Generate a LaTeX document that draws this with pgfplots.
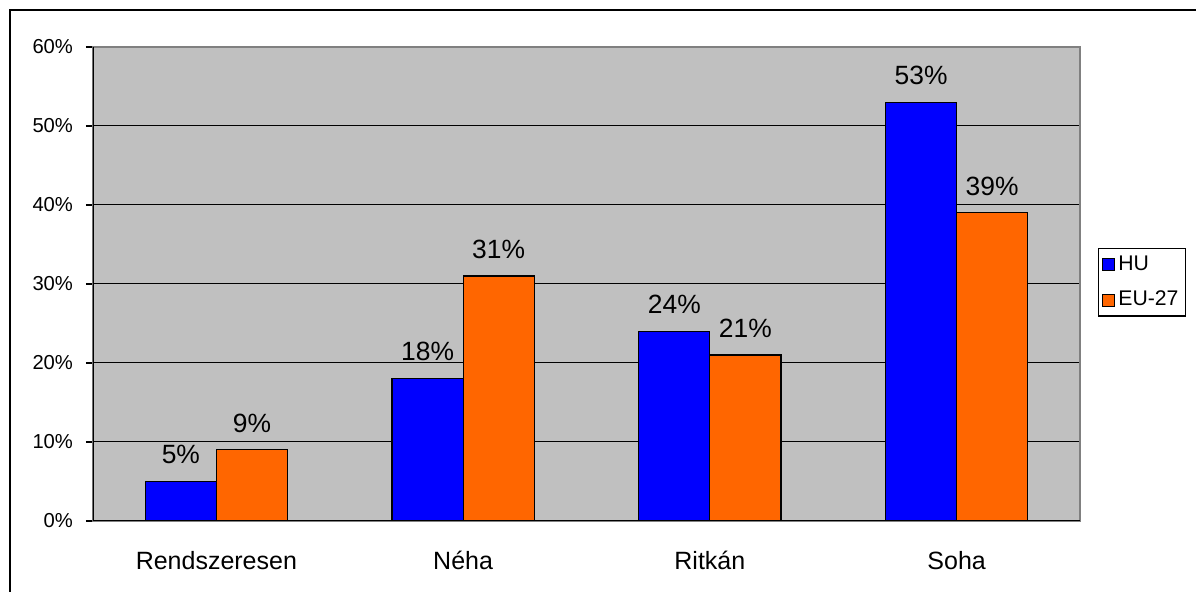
\documentclass[border=0pt]{standalone}
\usepackage{fontspec}
\setmainfont{Liberation Sans}
\usepackage{pgfplots}
\pgfplotsset{compat=1.18}
\definecolor{chu}{HTML}{0000FF}
\definecolor{ceu}{HTML}{FF6600}
\definecolor{cbg}{HTML}{C0C0C0}
\definecolor{cedge}{HTML}{808080}
\newcommand{\ticklab}{\fontsize{10.1}{12}\selectfont}
\newcommand{\catlab}{\fontsize{12.5}{14}\selectfont}
\newcommand{\datlab}{\fontsize{13.2}{15}\selectfont}
\newcommand{\leglab}{\fontsize{10.6}{12}\selectfont}
\begin{document}
\begin{tikzpicture}
\useasboundingbox (-46.5pt,-35.5pt) rectangle (551.5pt,260.5pt);
\begin{axis}[
  scale only axis,
  width=493.5pt, height=237pt,
  xmin=-0.5, xmax=3.5, ymin=0, ymax=60,
  ybar=0pt, bar width=0.288,
  axis background/.style={fill=cbg},
  axis line style={draw=cedge, line width=0.6pt},
  ytick={0,10,20,30,40,50,60},
  yticklabel={\pgfmathprintnumber{\tick}\%},
  ymajorgrids, grid style={black, line width=0.5pt},
  xtick={0,1,2,3},
  xticklabels={Rendszeresen, Néha, Ritkán, Soha},
  x tick style={draw=none},
  extra x ticks={-0.5,0.5,1.5,2.5,3.5},
  extra x tick labels={},
  extra x tick style={grid=none, tick style={draw=black, line width=0.6pt}},
  y tick style={draw=black, line width=0.6pt},
  tick align=outside, major tick length=3.5pt,
  tick pos=left,
  yticklabel style={font=\ticklab, xshift=-3pt},
  xticklabel style={font=\catlab, yshift=-8pt},
  /pgf/number format/assume math mode=true,
  nodes near coords={\pgfmathprintnumber{\pgfplotspointmeta}\%},
  nodes near coords style={font=\datlab, anchor=south, inner sep=0pt, yshift=8.5pt},
  legend style={at={(axis description cs:1.0182,0.576)}, anchor=north west,
    draw=black, line width=0.6pt, font=\leglab, inner sep=1.5pt, row sep=5pt,
    legend cell align=left},
  legend image code/.code={\draw[#1, line width=0.4pt] (0pt,-3pt) rectangle (6pt,3pt);},
]
\addplot[fill=chu, draw=black, line width=0.6pt]
  coordinates {(0,5) (1,18) (2,24) (3,53)};
\addlegendentry{HU}
\addplot[fill=ceu, draw=black, line width=0.6pt]
  coordinates {(0,9) (1,31) (2,21) (3,39)};
\addlegendentry{EU-27}
\draw[black, line width=0.7pt] (rel axis cs:0,0) -- (rel axis cs:0,1);
\draw[black, line width=0.7pt] (rel axis cs:0,0) -- (rel axis cs:1,0);
\end{axis}
\draw[black, line width=1pt] (-41.5pt,-40pt) -- (-41.5pt,255.5pt) -- (560pt,255.5pt);
\end{tikzpicture}
\end{document}
